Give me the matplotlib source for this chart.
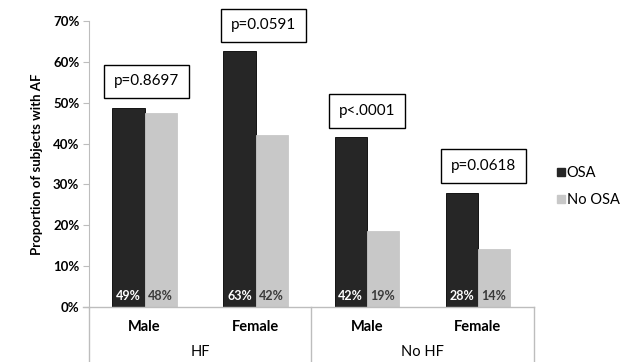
import numpy as np
import matplotlib.pyplot as plt
from matplotlib.patches import Patch
from matplotlib.ticker import PercentFormatter

plt.rcParams['font.family'] = ['Lato', 'DejaVu Sans']

# datos
categories = ['Male', 'Female', 'Male', 'Female']
groups = ['HF', 'No HF']
osa = [48.7, 62.6, 41.6, 27.9]
no_osa = [47.4, 42.0, 18.6, 14.2]
osa_labels = ['49%', '63%', '42%', '28%']
no_osa_labels = ['48%', '42%', '19%', '14%']
p_values = ['p=0.8697', 'p=0.0591', 'p<.0001', 'p=0.0618']
p_heights = [55.2, 68.9, 48.0, 34.6]
p_offsets = [0.02, 0.07, 0.0, 0.05]

dark = '#262626'
light = '#c8c8c8'
line_gray = '#bdbdbd'

fig = plt.figure(figsize=(6.24, 3.62), dpi=100)
ax = fig.add_axes([0.1426, 0.152, 0.7124, 0.790])

x = np.arange(len(categories))
w = 0.29
ax.bar(x - w / 2, osa, w, color=dark, edgecolor='black', linewidth=0.6)
ax.bar(x + w / 2, no_osa, w, color=light, edgecolor=light, linewidth=0.6)

for i in range(len(x)):
    ax.text(x[i] - w / 2, 2.7, osa_labels[i], color='white', ha='center',
            va='center', fontsize=9, fontweight='bold')
    ax.text(x[i] + w / 2, 2.7, no_osa_labels[i], color='#3a3a3a', ha='center',
            va='center', fontsize=9, fontweight='bold')
    ax.text(x[i] + p_offsets[i], p_heights[i], p_values[i], ha='center',
            va='center', fontsize=11,
            bbox=dict(boxstyle='square,pad=0.65', fc='white', ec='black', lw=1.0))

ax.set_xlim(-0.5, 3.5)
ax.set_ylim(0, 70)
ax.set_yticks(np.arange(0, 71, 10))
ax.yaxis.set_major_formatter(PercentFormatter(decimals=0))
ax.tick_params(axis='y', length=4, color=line_gray, labelsize=9.5, pad=3)
for lab in ax.get_yticklabels():
    lab.set_fontweight('bold')
ax.set_xticks([])
for s in ['top', 'right', 'bottom']:
    ax.spines[s].set_visible(False)
ax.spines['left'].set_color(line_gray)
ax.set_ylabel('Proportion of subjects with AF', fontsize=9.5, fontweight='bold',
              labelpad=7)

# eje de categorias en dos niveles
trans = ax.get_xaxis_transform()
ax.plot([-0.55, 3.5], [0, 0], color=line_gray, lw=1, transform=trans, clip_on=False)
for xv in [-0.5, 1.5, 3.5]:
    ax.plot([xv, xv], [0, -0.2], color=line_gray, lw=1, transform=trans,
            clip_on=False)
for i, c in enumerate(categories):
    ax.text(x[i], -0.07, c, transform=trans, ha='center', va='center',
            fontsize=10.5, fontweight='bold')
for j, g in enumerate(groups):
    ax.text(0.5 + 2 * j, -0.157, g, transform=trans, ha='center', va='center',
            fontsize=10.5)

handles = [Patch(color=dark, label='OSA'), Patch(color=light, label='No OSA')]
fig.legend(handles=handles, loc='center left', bbox_to_anchor=(0.872, 0.485),
           frameon=False, fontsize=10.5, handlelength=0.5, handleheight=0.5,
           handletextpad=0.15, labelspacing=0.9)

fig.savefig('out.png', dpi=100)
